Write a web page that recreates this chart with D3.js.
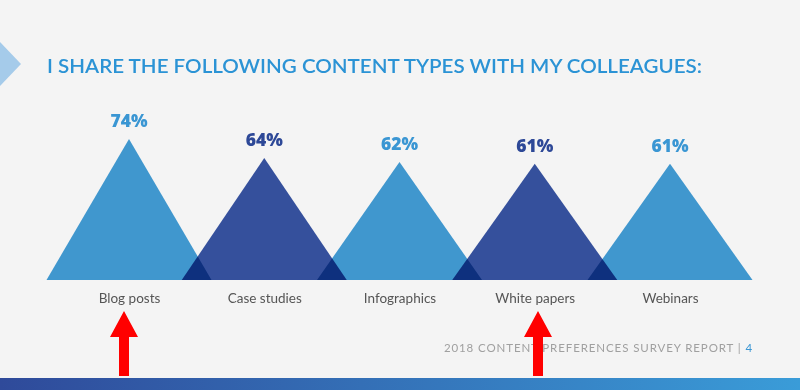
<!DOCTYPE html>
<html>
<head>
<meta charset="utf-8">
<script src="https://cdn.jsdelivr.net/npm/d3@7"></script>
<style>
  body { margin: 0; background: #f4f4f4; }
  svg { display: block; }
</style>
</head>
<body>
<div class="graph"></div>
<script>
// data
var categories = ["Blog posts", "Case studies", "Infographics", "White papers", "Webinars"];
var values = [74, 64, 62, 61, 61];
var shades = ["light", "dark", "light", "dark", "light"];
var title = "I SHARE THE FOLLOWING CONTENT TYPES WITH MY COLLEAGUES:";
var footer = "2018 CONTENT PREFERENCES SURVEY REPORT | ";
var pageNo = "4";

var width = 800, height = 390;
var colors = { light: "#4097ce", dark: "#35509c" };
var labelColors = { light: "#3a96d3", dark: "#2d4897" };

var svg = d3.select(".graph").append("svg")
  .attr("width", width).attr("height", height);

svg.append("rect").attr("width", width).attr("height", height).attr("fill", "#f4f4f4");

// gradient for bottom band
var defs = svg.append("defs");
var grad = defs.append("linearGradient").attr("id", "band").attr("x1", 0).attr("x2", 1).attr("y1", 0).attr("y2", 0);
grad.append("stop").attr("offset", "0%").attr("stop-color", "#2f4a9a");
grad.append("stop").attr("offset", "100%").attr("stop-color", "#3a9cd8");

// left arrow marker
svg.append("path").attr("d", "M0,42 L21,64 L0,86 Z").attr("fill", "#a5cbea");

// title
svg.append("text")
  .attr("x", 47).attr("y", 73)
  .attr("textLength", 655).attr("lengthAdjust", "spacingAndGlyphs")
  .style("font-family", "Lato, 'Open Sans', sans-serif")
  .style("font-weight", 600).style("font-size", "18.5px")
  .attr("fill", "#2b93d5")
  .text(title);

// scales
var x = d3.scalePoint().domain(categories).range([129, 670]);
var y = d3.scaleLinear().domain([0, 100]).range([280, 89.5]);
var half = x.step() * 0.61;

var g = svg.append("g").style("isolation", "isolate");

g.selectAll("path.tri")
  .data(categories)
  .enter().append("path")
  .attr("class", "tri")
  .attr("d", function (d, i) {
    var cx = x(d);
    return "M" + (cx - half) + "," + y(0) + " L" + cx + "," + y(values[i]) + " L" + (cx + half) + "," + y(0) + " Z";
  })
  .attr("fill", function (d, i) { return colors[shades[i]]; })
  .style("mix-blend-mode", "multiply");

// value labels
svg.selectAll("text.val")
  .data(categories)
  .enter().append("text")
  .attr("class", "val")
  .attr("x", function (d) { return x(d); })
  .attr("y", function (d, i) { return y(values[i]) - 12; })
  .attr("text-anchor", "middle")
  .style("font-family", "'Open Sans', Lato, sans-serif")
  .style("font-weight", 800).style("font-size", "17.5px")
  .attr("fill", function (d, i) { return labelColors[shades[i]]; })
  .text(function (d, i) { return values[i] + "%"; });

// category axis labels
var axis = d3.axisBottom(x).tickSize(0).tickPadding(13);
var ax = svg.append("g").attr("transform", "translate(0," + y(0) + ")").call(axis);
ax.select(".domain").remove();
ax.selectAll("text")
  .style("font-family", "Lato, 'Open Sans', sans-serif")
  .style("font-size", "13.5px")
  .attr("fill", "#555");

// footer
var ft = svg.append("text")
  .attr("x", 753).attr("y", 352).attr("text-anchor", "end")
  .style("font-family", "Lato, 'Open Sans', sans-serif")
  .style("font-size", "11.5px").style("letter-spacing", "0.9px")
  .attr("fill", "#a0a0a0");
ft.append("tspan").text(footer);
ft.append("tspan").attr("fill", "#3a96d3").text(pageNo);

// bottom band
svg.append("rect").attr("x", 0).attr("y", 378).attr("width", width).attr("height", 12).attr("fill", "url(#band)");

// red annotation arrows
var arrowX = [124, 538];
svg.selectAll("path.arrow")
  .data(arrowX)
  .enter().append("path")
  .attr("class", "arrow")
  .attr("d", function (cx) {
    return "M" + cx + ",311 L" + (cx + 14) + ",337 L" + (cx + 5) + ",337 L" + (cx + 5) + ",376 L" + (cx - 5) + ",376 L" + (cx - 5) + ",337 L" + (cx - 14) + ",337 Z";
  })
  .attr("fill", "#ff0000");
</script>
</body>
</html>
